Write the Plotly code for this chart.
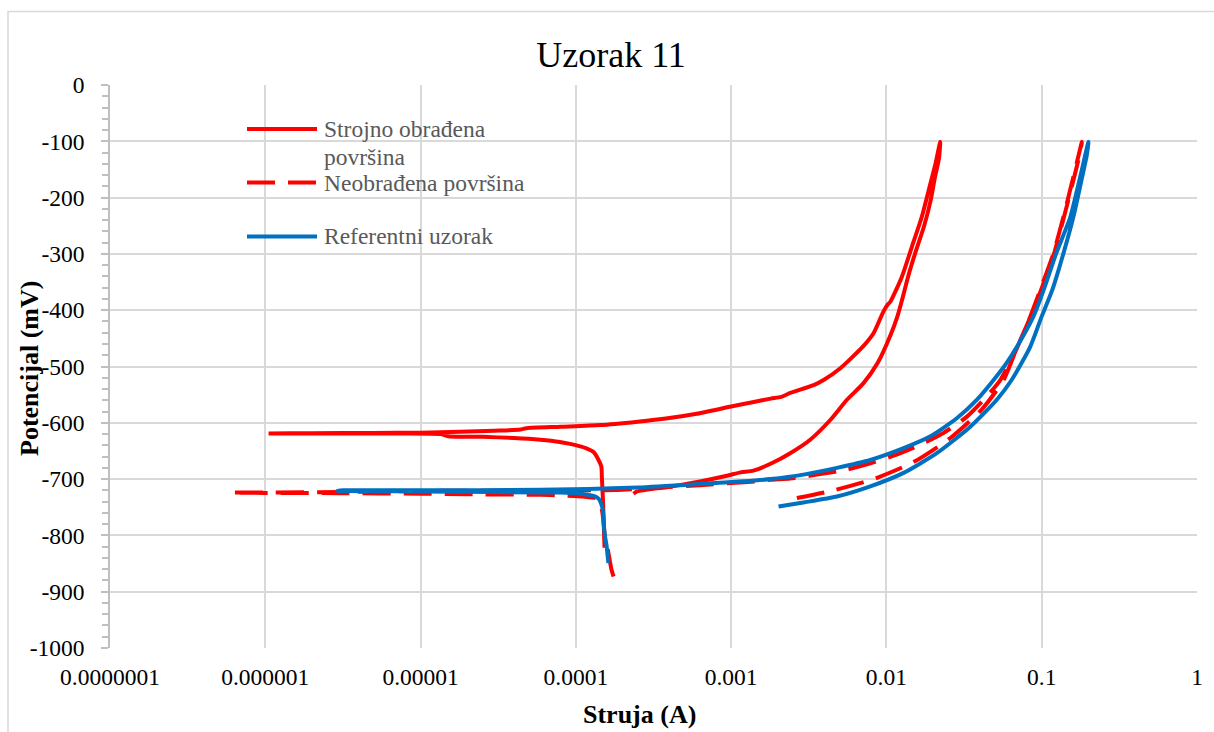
import plotly.graph_objects as go

# Strojno obrađena površina (solid red): cathodic -> anodic -> reverse scan
machined_current = [
    1.53e-4, 1.52e-4, 1.51e-4, 1.49e-4, 1.47e-4, 1.46e-4, 1.40e-4, 1.30e-4, 1.18e-4, 1.07e-4,
    9.0e-5, 7.9e-5, 5.9e-5, 4.0e-5, 2.5e-5, 1.5e-5, 1.35e-5, 6.0e-6, 2.5e-6, 1.05e-6,
    2.0e-6, 5.0e-6, 1.0e-5, 1.8e-5, 3.0e-5, 4.4e-5, 4.8e-5, 8.0e-5, 1.44e-4, 2.5e-4,
    3.9e-4, 6.0e-4, 1.0e-3, 1.4e-3, 1.8e-3, 2.1e-3, 2.4e-3, 3.4e-3, 3.94e-3, 5.05e-3,
    6.1e-3, 7.2e-3, 8.26e-3, 9.58e-3, 1.02e-2, 1.06e-2, 1.26e-2, 1.46e-2, 1.69e-2, 1.92e-2,
    2.07e-2, 2.22e-2,
    2.18e-2, 2.05e-2, 1.93e-2, 1.75e-2, 1.53e-2, 1.38e-2, 1.26e-2, 1.18e-2, 1.06e-2, 8.77e-3,
    7.1e-3, 5.57e-3, 4.35e-3, 3.23e-3, 2.4e-3, 1.85e-3, 1.39e-3, 1.15e-3, 9.4e-4, 6.3e-4,
    3.9e-4, 2.48e-4, 2.35e-4,
]
machined_potential = [
    -822, -800, -770, -730, -695, -678, -666, -652, -646, -642,
    -637, -634, -630, -627, -625, -624, -620, -619, -619, -619,
    -618.5, -618, -617.5, -616, -614, -612, -609.5, -607, -604, -598,
    -592, -584, -571, -563, -557, -554, -547, -533, -524, -503,
    -482, -462, -441, -402, -390, -385, -340, -287, -234, -175,
    -140, -101,
    -130, -165, -204, -250, -299, -340, -382, -410, -445, -494,
    -530, -559, -595, -630, -654, -671, -685, -688, -694, -704,
    -714, -722, -726,
]

# Neobrađena površina (dashed red)
raw_current = [
    1.75e-4, 1.70e-4, 1.62e-4, 1.57e-4, 1.53e-4, 1.50e-4, 1.47e-4, 1.43e-4, 1.35e-4, 1.12e-4,
    8.0e-5, 5.9e-5, 2.0e-5, 1.0e-5, 3.0e-6, 1.0e-6, 6.0e-7,
    1.0e-6, 3.0e-6, 1.0e-5, 5.0e-5, 1.2e-4, 2.0e-4, 3.5e-4, 6.3e-4, 1.0e-3, 1.47e-3, 1.79e-3,
    2.4e-3, 3.56e-3, 5.57e-3, 7.87e-3, 1.15e-2, 1.65e-2, 2.33e-2, 3.3e-2, 4.43e-2, 5.41e-2,
    6.6e-2, 8.2e-2, 0.0978, 0.119, 0.138, 0.160, 0.1815,
    0.175, 0.158, 0.138, 0.119, 0.0978, 0.0843, 0.0692, 5.68e-2, 4.12e-2, 2.58e-2,
    1.49e-2, 8.26e-3, 4.57e-3, 2.29e-3,
]
raw_potential = [
    -873, -862, -831, -810, -796, -770, -754, -740, -734, -731,
    -729, -728, -727, -726, -725, -724.5, -724,
    -724, -723, -721, -720.5, -720, -719, -715, -711, -707, -704, -701,
    -699, -692, -683, -672, -657, -639, -618, -589, -553, -524,
    -480, -420, -364, -299, -234, -163, -101,
    -125, -175, -238, -303, -368, -413, -467, -524, -576, -627,
    -670, -700, -720, -737,
]

# Referentni uzorak (blue)
reference_current = [
    1.62e-4, 1.60e-4, 1.58e-4, 1.53e-4, 1.51e-4, 1.49e-4, 1.46e-4, 1.42e-4, 1.36e-4, 1.30e-4,
    1.07e-4, 7.9e-5, 3.0e-5, 1.0e-5, 5.0e-6, 2.9e-6,
    3.2e-6, 1.0e-5, 5.9e-5, 2.5e-4, 6.9e-4, 1.2e-3, 1.79e-3, 2.92e-3, 4.8e-3, 7.87e-3,
    1.29e-2, 1.92e-2, 2.84e-2, 3.83e-2, 4.9e-2, 5.9e-2, 6.92e-2, 8.85e-2, 0.103, 0.124,
    0.153, 0.177, 0.200,
    0.195, 0.180, 0.160, 0.138, 0.117, 0.100, 0.0843, 0.064, 0.0514, 0.0347,
    0.0211, 0.0129, 7.87e-3, 4.8e-3, 2.92e-3, 2.02e-3,
]
reference_potential = [
    -849, -835, -820, -796, -775, -754, -745, -737, -732, -730,
    -726, -724, -723, -722, -721.5, -721,
    -720, -720, -719, -715, -708, -704, -700, -692, -680, -666,
    -645, -624, -592, -559, -524, -495, -465, -411, -364, -299,
    -234, -163, -101,
    -125, -170, -234, -299, -364, -411, -465, -524, -559, -607,
    -654, -689, -713, -731, -741.5, -748.6,
]

series_names = ["Strojno obrađena površina", "Neobrađena površina", "Referentni uzorak"]
legend_lines = [["Strojno obrađena", "površina"], ["Neobrađena površina"], ["Referentni uzorak"]]
series_colors = ["#FF0000", "#FF0000", "#0070C0"]
series_dashes = ["solid", "28px,13px", "solid"]

x_tick_vals = [1e-7, 1e-6, 1e-5, 1e-4, 1e-3, 1e-2, 1e-1, 1]
x_tick_text = ["0.0000001", "0.000001", "0.00001", "0.0001", "0.001", "0.01", "0.1", "1"]
y_tick_vals = [0, -100, -200, -300, -400, -500, -600, -700, -800, -900, -1000]
y_tick_text = ["0", "-100", "-200", "-300", "-400", "-500", "-600", "-700", "-800", "-900", "-1000"]

FONT = "Liberation Serif, Times New Roman, serif"
WIDTH, HEIGHT = 1214, 732
ML, MR, MT, MB = 110, 17, 85, 84
PW = WIDTH - ML - MR
PH = HEIGHT - MT - MB


def fx(px):
    return (px - ML) / PW


def fy(py):
    return (HEIGHT - MB - py) / PH


fig = go.Figure()
data = [
    (machined_current, machined_potential),
    (raw_current, raw_potential),
    (reference_current, reference_potential),
]
for (xs, ys), name, color, dash in zip(data, series_names, series_colors, series_dashes):
    fig.add_trace(go.Scatter(
        x=xs, y=ys, mode="lines", name=name, showlegend=False,
        line=dict(color=color, width=4, dash=dash, shape="spline", smoothing=0.6),
    ))

shapes = []
annotations = []

# legend: sample line + label text
legend_rows = [129, 182.5, 236.5]
for row, lines, color, dash in zip(legend_rows, legend_lines, series_colors, series_dashes):
    shapes.append(dict(
        type="line", xref="paper", yref="paper",
        x0=fx(247), x1=fx(317), y0=fy(row), y1=fy(row),
        line=dict(color=color, width=4, dash=dash),
    ))
    for i, txt in enumerate(lines):
        annotations.append(dict(
            text=txt, xref="paper", yref="paper", x=fx(322), y=fy(row + i * 28),
            xanchor="left", yanchor="middle", showarrow=False,
            font=dict(family=FONT, size=23.5, color="#595959"),
        ))

# axis titles
annotations.append(dict(
    text="<b>Potencijal (mV)</b>", xref="paper", yref="paper", x=fx(29), y=fy(369),
    textangle=-90, xanchor="center", yanchor="middle", showarrow=False,
    font=dict(family=FONT, size=26, color="#000000"),
))
annotations.append(dict(
    text="<b>Struja (A)</b>", xref="paper", yref="paper", x=fx(639), y=fy(714),
    xanchor="center", yanchor="middle", showarrow=False,
    font=dict(family=FONT, size=26, color="#000000"),
))

# chart area border (left and top edges fall inside the page)
shapes.append(dict(
    type="rect", xref="paper", yref="paper",
    x0=fx(8), x1=fx(1230), y0=fy(760), y1=fy(11.5),
    line=dict(color="#d9d9d9", width=1.5), layer="below",
))

fig.update_layout(
    width=WIDTH, height=HEIGHT,
    margin=dict(l=ML, r=MR, t=MT, b=MB),
    paper_bgcolor="white", plot_bgcolor="white",
    font=dict(family=FONT, size=23.5, color="#000000"),
    title=dict(
        text="Uzorak 11", x=611 / WIDTH, xanchor="center", xref="container",
        y=1 - 54 / HEIGHT, yanchor="middle", yref="container",
        font=dict(family=FONT, size=36, color="#000000"),
    ),
    showlegend=False,
    shapes=shapes,
    annotations=annotations,
)

fig.update_xaxes(
    type="log", range=[-7, 0],
    tickmode="array", tickvals=x_tick_vals, ticktext=x_tick_text,
    showgrid=True, gridcolor="#d9d9d9", gridwidth=2,
    ticks="", showline=False, zeroline=False,
    ticklabelstandoff=12,
    tickfont=dict(family=FONT, size=23.5, color="#000000"),
)
fig.update_yaxes(
    range=[-1000, 0],
    tickmode="array", tickvals=y_tick_vals, ticktext=y_tick_text,
    showgrid=True, gridcolor="#d9d9d9", gridwidth=2,
    ticks="outside", ticklen=7, tickwidth=1.5, tickcolor="#bfbfbf",
    showline=True, linecolor="#bfbfbf", linewidth=1.5,
    zeroline=False,
    ticklabelstandoff=12,
    minor=dict(tickmode="linear", tick0=0, dtick=20, ticks="outside", ticklen=6,
               tickwidth=1.5, tickcolor="#bfbfbf", showgrid=False),
    tickfont=dict(family=FONT, size=23.5, color="#000000"),
)

fig.write_html("out.html")
